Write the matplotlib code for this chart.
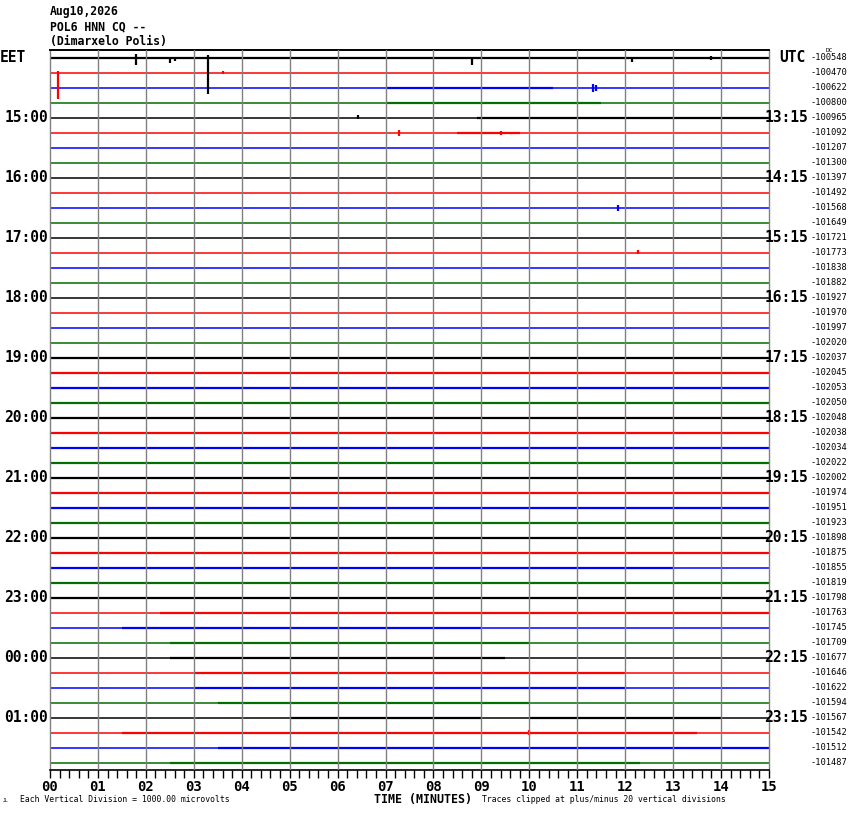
import matplotlib
matplotlib.use("Agg")
import matplotlib.pyplot as plt
from matplotlib import transforms

# station header
header = ["Aug10,2026", "POL6 HNN CQ --", "(Dimarxelo Polis)"]

# hour labels (every 4th row)
eet_labels = ["EET", "15:00", "16:00", "17:00", "18:00", "19:00", "20:00",
              "21:00", "22:00", "23:00", "00:00", "01:00"]
utc_labels = ["UTC", "13:15", "14:15", "15:15", "16:15", "17:15", "18:15",
              "19:15", "20:15", "21:15", "22:15", "23:15"]

# DC offset printed at the right of each trace
dc_values = [-100548, -100470, -100622, -100800, -100965, -101092, -101207, -101300,
             -101397, -101492, -101568, -101649, -101721, -101773, -101838, -101882,
             -101927, -101970, -101997, -102020, -102037, -102045, -102053, -102050,
             -102048, -102038, -102034, -102022, -102002, -101974, -101951, -101923,
             -101898, -101875, -101855, -101819, -101798, -101763, -101745, -101709,
             -101677, -101646, -101622, -101594, -101567, -101542, -101512, -101487]

trace_colors = ["black", "#ff0000", "#0000ff", "#006e00"]

# noisy stretches of each trace: (row, start min, end min)
busy = [(0, 0, 15), (2, 7, 10.5), (3, 7, 11.5), (4, 8.9, 15), (5, 8.5, 9.8),
        (20, 0, 15), (21, 0, 15), (22, 0, 15), (23, 0, 15), (24, 0, 15), (25, 0, 15),
        (26, 0, 15), (27, 0, 15), (28, 0, 15), (29, 0, 15), (30, 0, 15), (31, 0, 15),
        (32, 0, 15), (33, 0, 15), (34, 0, 13), (35, 0, 15), (36, 0, 15), (37, 2.3, 15),
        (38, 1.5, 9), (39, 2.5, 10), (40, 2.5, 9.5), (41, 3.0, 12), (42, 3.0, 12),
        (43, 3.5, 10), (44, 5, 9), (44, 10, 14), (45, 1.5, 13.5), (46, 3.5, 15),
        (47, 2.5, 12.3)]

# larger excursions: (row, minute, up px, down px)
spikes = [(0, 1.8, 4, 7), (0, 2.5, 0, 5), (0, 2.6, 0, 3), (0, 3.3, 3, 36),
          (0, 8.8, 0, 7), (0, 12.14, 0, 4), (0, 13.8, 2, 2),
          (1, 0.17, 2, 26), (1, 3.6, 2, 1),
          (2, 11.33, 4, 4), (2, 11.4, 3, 3),
          (4, 6.43, 3, 1), (5, 7.28, 3, 3), (5, 9.4, 2, 2),
          (10, 11.85, 3, 3), (13, 12.27, 3, 1), (45, 10.0, 3, 2)]

W, H = 850, 814
fig = plt.figure(figsize=(W / 100, H / 100), dpi=100)
ax = fig.add_axes([50 / W, 1 - 770 / H, 719 / W, 720 / H])
nrows = len(dc_values)
ax.set_xlim(0, 15)
ax.set_ylim(nrows - 0.5, -0.5)
px = 1 / 15  # one pixel in row units

for m in range(1, 15):
    ax.axvline(m, color="#808080", lw=1.0, zorder=3)

for i in range(nrows):
    c = trace_colors[i % 4]
    ax.plot([0, 15], [i, i], color=c, lw=1.1, solid_capstyle="butt", zorder=2)
for r, a, b in busy:
    ax.plot([a, b], [r, r], color=trace_colors[r % 4], lw=1.6,
            solid_capstyle="butt", zorder=2)
for r, m, up, dn in spikes:
    ax.vlines(m, r - up * px, r + dn * px, color=trace_colors[r % 4], lw=1.6, zorder=2)

for s in ["left", "right"]:
    ax.spines[s].set_color("#808080")
    ax.spines[s].set_linewidth(1.0)
ax.spines["top"].set_color("black")
ax.spines["top"].set_linewidth(1.4)
ax.spines["bottom"].set_color("black")
ax.spines["bottom"].set_linewidth(1.2)
ax.set_yticks([])
ax.set_xticks(range(16))
ax.set_xticklabels(["%02d" % m for m in range(16)], fontfamily="DejaVu Sans Mono",
                   fontweight="bold", fontsize=10)
ax.set_xticks([k * 0.2 for k in range(76)], minor=True)
ax.tick_params(axis="x", which="both", direction="out", length=6, width=1.0,
               color="black", pad=1)

mono = "DejaVu Sans Mono"
lt = transforms.blended_transform_factory(fig.transFigure, ax.transData)
for k, lab in enumerate(eet_labels):
    if k == 0:
        ax.text(0 / W, 0, lab, transform=lt, ha="left", va="center",
                fontfamily=mono, fontweight="bold", fontsize=10.5)
    else:
        ax.text(48 / W, 4 * k, lab, transform=lt, ha="right", va="center",
                fontfamily=mono, fontweight="bold", fontsize=10.5)
for k, lab in enumerate(utc_labels):
    xr = 806 if k == 0 else 808
    ax.text(xr / W, 4 * k, lab, transform=lt, ha="right", va="center",
            fontfamily=mono, fontweight="bold", fontsize=10.5)
for i, v in enumerate(dc_values):
    ax.text(810 / W, i, str(v), transform=lt, ha="left", va="center",
            fontfamily=mono, fontsize=6.3)
ax.text(826 / W, -0.45, "DC", transform=lt, ha="left", va="center",
        fontfamily=mono, fontsize=4.5)

for k, line in enumerate(header):
    fig.text(50 / W, 1 - (12 + 14.5 * k) / H, line, ha="left", va="center",
             fontfamily=mono, fontweight="bold", fontsize=8.3)

fig.text(423 / W, 1 - 800 / H, "TIME (MINUTES)", ha="center", va="center",
         fontfamily=mono, fontweight="bold", fontsize=8.4)
fig.text(20 / W, 1 - 800 / H, "Each Vertical Division = 1000.00 microvolts",
         ha="left", va="center", fontfamily=mono, fontsize=5.9)
fig.text(482 / W, 1 - 800 / H, "Traces clipped at plus/minus 20 vertical divisions",
         ha="left", va="center", fontfamily=mono, fontsize=5.9)
fig.text(3 / W, 1 - 801 / H, "JL", ha="left", va="center", fontfamily=mono,
         fontsize=3.5)

fig.savefig("out.png", dpi=100, facecolor="white")
